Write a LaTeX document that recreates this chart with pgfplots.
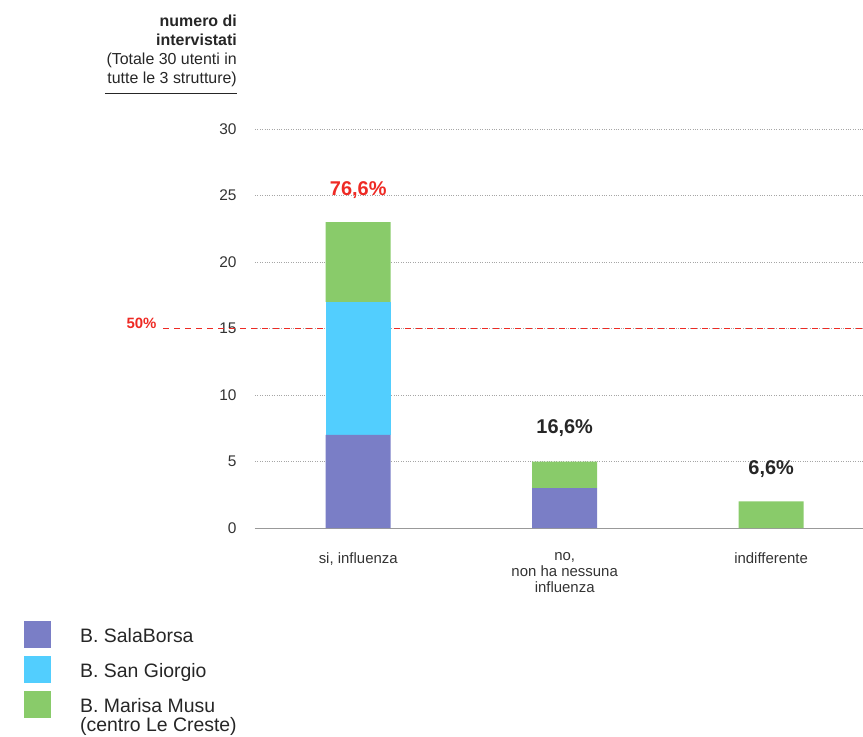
\documentclass[border=0pt]{standalone}
\usepackage{pgfplots}
\pgfplotsset{compat=1.18}
\usepackage{fontspec}
\setmainfont{Liberation Sans}

\definecolor{salaborsa}{HTML}{7A7EC6}
\definecolor{sangiorgio}{HTML}{52CEFE}
\definecolor{musu}{HTML}{89CB6A}
\definecolor{redpct}{HTML}{EE2A24}

\begin{document}
\begin{tikzpicture}
\path[use as bounding box] (-255bp,-209bp) rectangle (608bp,528bp);
\begin{axis}[
    scale only axis,
    width=608bp, height=399bp,
    ybar stacked,
    bar width=65bp,
    xmin=-0.5, xmax=2.445,
    ymin=0, ymax=30,
    xtick={0,1,2},
    xticklabels={{si, influenza},{no,\\non ha nessuna\\influenza},{indifferente}},
    ytick={0,5,...,30},
    axis line style={draw=none},
    major tick length=0pt,
    ymajorgrids,
    grid style={gray!70, dotted, line width=0.6bp},
    tick label style={text=black!80},
    yticklabel style={xshift=-15bp, font=\fontsize{15.5}{16}\selectfont},
    xticklabel style={align=center, yshift=-21bp, font=\fontsize{15}{16}\selectfont},
    /pgf/number format/assume math mode=true,
    clip=false,
    legend cell align=left,
    legend style={at={(axis description cs:0,0)}, anchor=north west,
        xshift=-231bp, yshift=-93bp, draw=none, fill=none,
        font=\fontsize{19.5}{20}\selectfont, text=black!85,
        inner sep=0pt, row sep=8bp,
        nodes={inner sep=0pt}},
    legend image code/.code={\fill[#1] (0bp,-12bp) rectangle (27bp,15bp); \path (56bp,0bp);},
]
\addplot+[fill=salaborsa, draw=none] coordinates {(0,7) (1,3) (2,0)};
\addlegendentry{B. SalaBorsa}
\addplot+[fill=sangiorgio, draw=none] coordinates {(0,10) (1,0) (2,0)};
\addlegendentry{B. San Giorgio}
\addplot+[fill=musu, draw=none] coordinates {(0,6) (1,2) (2,2)};
\addlegendentry{\begin{tabular}[t]{@{}l@{}}B. Marisa Musu\\[-1bp](centro Le Creste)\end{tabular}}

\draw[gray!80, line width=0.6bp] (rel axis cs:0,0) -- (rel axis cs:1,0);
\draw[redpct, line width=0.9bp, dash pattern=on 6bp off 5bp]
    (axis cs:-0.944,15) -- (axis cs:2.445,15);
\node[redpct, font=\bfseries\fontsize{15}{16}\selectfont, anchor=east]
    at (axis cs:-0.96,15.35) {50\%};

\node[redpct, font=\bfseries\fontsize{20}{22}\selectfont] at (axis cs:0,25.4) {76,6\%};
\node[black!85, font=\bfseries\fontsize{20}{22}\selectfont] at (axis cs:1,7.5) {16,6\%};
\node[black!85, font=\bfseries\fontsize{20}{22}\selectfont] at (axis cs:2,4.4) {6,6\%};

\node[anchor=north east, align=right, inner sep=0pt, text=black!85,
      font=\fontsize{16}{18.9}\selectfont]
    at ([xshift=-18bp,yshift=114bp]rel axis cs:0,1)
    {\textbf{numero di}\\\textbf{intervistati}\\(Totale 30 utenti in\\tutte le 3 strutture)};
\draw[black!85, line width=0.8bp] ([xshift=-150bp,yshift=36bp]rel axis cs:0,1) -- ([xshift=-18bp,yshift=36bp]rel axis cs:0,1);
\end{axis}
\end{tikzpicture}
\end{document}
